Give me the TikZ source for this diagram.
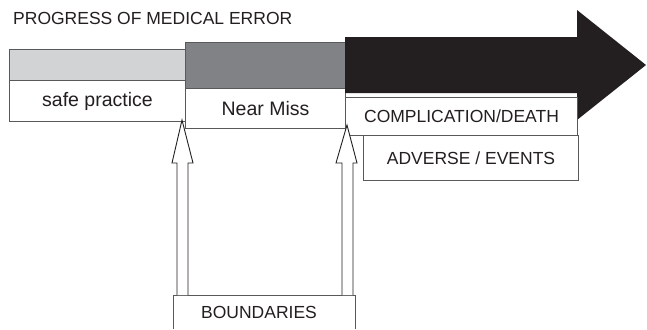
\documentclass[tikz,border=0pt]{standalone}
\usepackage{fontspec}
\setmainfont{Liberation Sans}
\definecolor{ink}{HTML}{231F20}
\definecolor{edge}{HTML}{58595B}
\definecolor{lightbar}{HTML}{D1D3D4}
\definecolor{darkbar}{HTML}{808285}
\tikzset{
  box/.style={draw=edge, line width=1bp, fill=white, anchor=north west, inner sep=0pt, text=ink},
  big/.style={font=\fontsize{19.5bp}{22bp}\selectfont},
  small/.style={font=\fontsize{17.5bp}{20bp}\selectfont},
  hollow/.style={draw=ink, line width=0.9bp, fill=white, line join=miter},
}
\begin{document}
\begin{tikzpicture}[x=1bp,y=-1bp]
\useasboundingbox (0,0) rectangle (647,329);
\fill[white] (0,0) rectangle (647,329);
% title
\node[small, anchor=base west, inner sep=0pt, text=ink] (title) at (13,24) {PROGRESS OF MEDICAL ERROR};
% light bar and safe practice
\draw[edge, line width=1bp, fill=lightbar] (9,49) rectangle (185,80);
\node[box, big, minimum width=176bp, minimum height=41bp] (safe) at (9,80) {safe practice};
% dark bar and near miss
\draw[edge, line width=1bp, fill=darkbar] (185,42) rectangle (345,88);
\node[box, big, minimum width=160bp, minimum height=40bp] (near) at (185,88) {Near Miss};
% big black arrow
\fill[ink] (345,37) -- (577,37) -- (577,10) -- (646,65) -- (577,120) -- (577,93) -- (345,93) -- cycle;
% complication and adverse
\node[box, small, minimum width=232bp, minimum height=38bp] (comp) at (345,97) {COMPLICATION/DEATH};
\node[box, small, minimum width=215bp, minimum height=45bp] (adv) at (363,135) {ADVERSE / EVENTS};
% boundaries box (open at the bottom)
\fill[white] (173,295) rectangle (355,329);
\draw[edge, line width=1bp] (173,329) -- (173,295) -- (355,295) -- (355,329);
\node[small, inner sep=0pt, text=ink] (bnd) at (259,312) {BOUNDARIES};
% hollow arrows from boundaries
\coordinate (lt) at (182,120);
\coordinate (rt) at (347,125);
\draw[hollow] (177,295) -- (177,163) -- (172,163) -- (lt) -- (193,163) -- (188,163) -- (188,295);
\draw[hollow] (342,295) -- (342,163) -- (336,163) -- (rt) -- (357,163) -- (353,163) -- (353,295);
\end{tikzpicture}
\end{document}
